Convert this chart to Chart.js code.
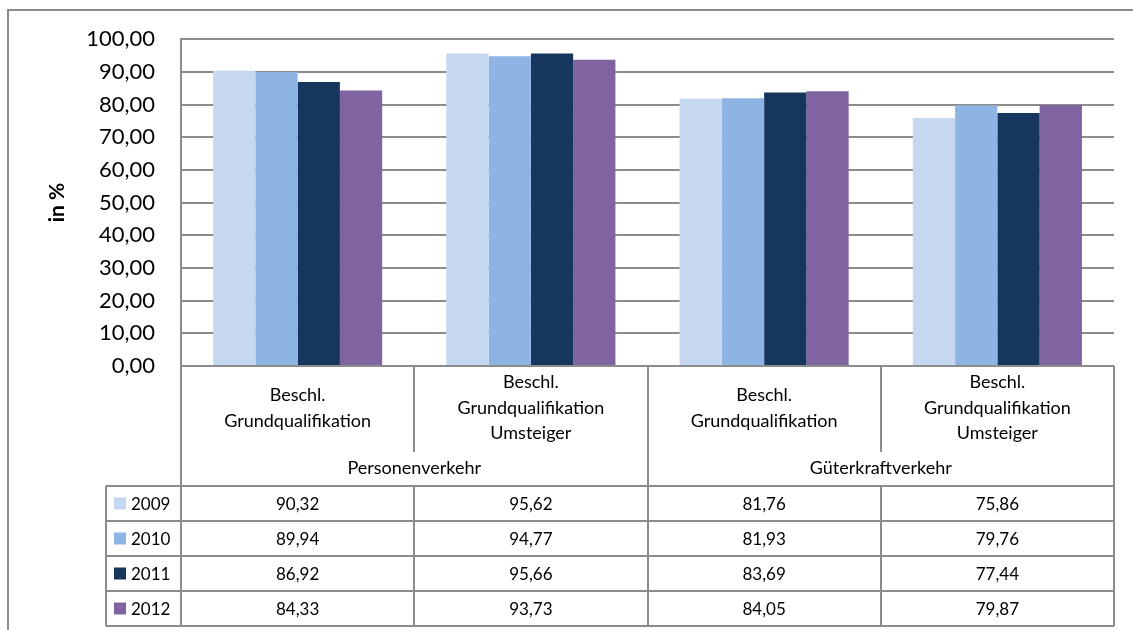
<!DOCTYPE html>
<html>
<head>
<meta charset="utf-8">
<script src="https://cdn.jsdelivr.net/npm/chart.js@4.4.1/dist/chart.umd.min.js"></script>
<style>
  html, body { margin: 0; padding: 0; background: #fff; }
  #wrap { width: 1133px; height: 630px; }
</style>
</head>
<body>
<div id="wrap"><canvas id="chart" width="1133" height="630"></canvas></div>
<script>
// --- data ---
const categories = [
  ['Beschl.', 'Grundqualifikation'],
  ['Beschl.', 'Grundqualifikation', 'Umsteiger'],
  ['Beschl.', 'Grundqualifikation'],
  ['Beschl.', 'Grundqualifikation', 'Umsteiger']
];
const groups = ['Personenverkehr', 'Güterkraftverkehr'];
const years = ['2009', '2010', '2011', '2012'];
const values2009 = [90.32, 95.62, 81.76, 75.86];
const values2010 = [89.94, 94.77, 81.93, 79.76];
const values2011 = [86.92, 95.66, 83.69, 77.44];
const values2012 = [84.33, 93.73, 84.05, 79.87];
const colors = ['#C5D8EF', '#8EB4E3', '#17365D', '#8064A2'];
const yTitle = 'in %';

const FONT = 'Lato, "Open Sans", sans-serif';
const LINE = '#8c8c8c';

function fmt(v) {
  return v.toFixed(2).replace('.', ',');
}

const seriesValues = [values2009, values2010, values2011, values2012];

// Excel-like data table under the plot, aligned on the x scale
const tablePlugin = {
  id: 'dataTable',
  afterDraw(chart) {
    const ctx = chart.ctx;
    const area = chart.chartArea;
    const xs = chart.scales.x;
    const half = (area.right - area.left) / categories.length / 2;
    const top = area.bottom;
    const headBottom = top + 120;
    const rowH = 35;
    const tableBottom = headBottom + rowH * years.length;
    const legendLeft = 106;

    ctx.save();
    // outer chart border
    ctx.strokeStyle = LINE;
    ctx.lineWidth = 2;
    ctx.beginPath();
    ctx.moveTo(8, 630);
    ctx.lineTo(8, 10);
    ctx.lineTo(1133, 10);
    ctx.stroke();

    ctx.beginPath();
    // verticals
    const bounds = categories.map((_, i) => xs.getPixelForValue(i) - half);
    bounds.push(area.right);
    bounds.forEach((bx, i) => {
      const x = Math.round(bx);
      if (i % 2 === 0) {
        ctx.moveTo(x, top);
        ctx.lineTo(x, tableBottom);
      } else {
        ctx.moveTo(x, top);
        ctx.lineTo(x, top + 86);
        ctx.moveTo(x, headBottom);
        ctx.lineTo(x, tableBottom);
      }
    });
    ctx.moveTo(legendLeft, headBottom);
    ctx.lineTo(legendLeft, tableBottom);
    // horizontals
    for (let r = 0; r <= years.length; r++) {
      const y = headBottom + r * rowH;
      ctx.moveTo(legendLeft, y);
      ctx.lineTo(area.right, y);
    }
    ctx.stroke();

    ctx.fillStyle = '#000';
    ctx.textAlign = 'center';
    ctx.textBaseline = 'middle';
    ctx.font = '18px ' + FONT;
    // category labels
    categories.forEach((lines, i) => {
      const cx = xs.getPixelForValue(i);
      const lh = 25.5;
      const y0 = top + 42 - (lines.length - 1) * lh / 2;
      lines.forEach((t, k) => ctx.fillText(t, cx, y0 + k * lh));
    });
    // group labels
    groups.forEach((g, gi) => {
      const cx = (bounds[gi * 2] + bounds[gi * 2 + 2]) / 2;
      ctx.fillText(g, cx, top + 102);
    });
    // data rows
    ctx.font = '17px ' + FONT;
    years.forEach((yr, r) => {
      const cy = headBottom + r * rowH + rowH / 2;
      ctx.fillStyle = colors[r];
      ctx.fillRect(114, cy - 6, 12, 12);
      ctx.fillStyle = '#000';
      ctx.textAlign = 'left';
      ctx.fillText(yr, 131, cy + 1);
      ctx.textAlign = 'center';
      seriesValues[r].forEach((v, i) => {
        ctx.fillText(fmt(v), xs.getPixelForValue(i), cy + 1);
      });
    });
    ctx.restore();
  }
};

new Chart(document.getElementById('chart'), {
  type: 'bar',
  data: {
    labels: categories.map(c => c.join(' ')),
    datasets: years.map((yr, i) => ({
      label: yr,
      data: seriesValues[i],
      backgroundColor: colors[i],
      borderWidth: 0,
      barPercentage: 1.0,
      categoryPercentage: 0.725
    }))
  },
  options: {
    responsive: false,
    animation: false,
    layout: { padding: { left: 0, top: 39, right: 19, bottom: 264 } },
    plugins: {
      legend: { display: false },
      tooltip: { enabled: false }
    },
    scales: {
      x: { display: false },
      y: {
        min: 0,
        max: 100,
        afterFit(scale) { scale.width = 181; },
        ticks: {
          stepSize: 10,
          padding: 26,
          color: '#000',
          font: { family: FONT, size: 22 },
          callback: v => fmt(v)
        },
        grid: { color: LINE, lineWidth: 2, drawTicks: false },
        border: { color: LINE, width: 2 },
        title: {
          display: true,
          text: yTitle,
          color: '#000',
          font: { family: FONT, size: 21, weight: 'bold' },
          padding: { top: 45, bottom: 0 }
        }
      }
    }
  },
  plugins: [tablePlugin]
});
</script>
</body>
</html>
